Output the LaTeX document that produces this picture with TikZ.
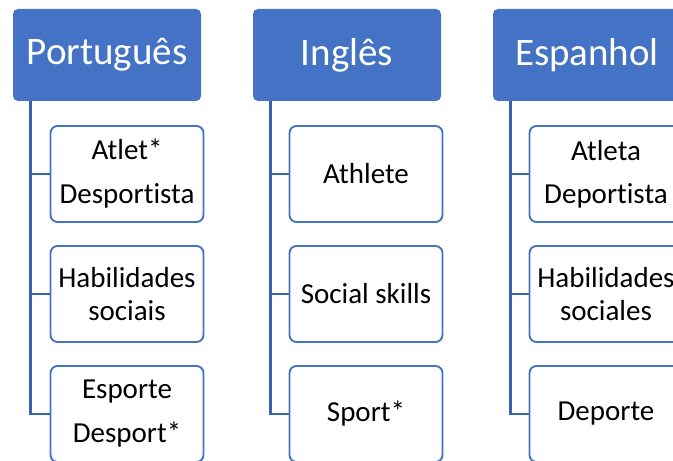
\documentclass[tikz,border=0pt]{standalone}
\usepackage{fontspec}
\setmainfont{Carlito}[Ligatures=NoCommon]
\definecolor{cabeca}{HTML}{4472C4}
\definecolor{traco}{HTML}{3A63AD}

\begin{document}
\begin{tikzpicture}[x=1pt,y=1pt,
    lingua/.style={rectangle,rounded corners=5pt,fill=cabeca,text=white,
        minimum width=188pt,minimum height=92pt,font=\fontsize{39}{46}\selectfont},
    termo/.style={rectangle,rounded corners=7pt,draw=cabeca,line width=1.9pt,fill=white,
        minimum width=153pt,minimum height=96pt,align=center,font=\fontsize{29}{33}\selectfont},
    ligacao/.style={draw=traco,line width=2.4pt}]
    \useasboundingbox (0,0) rectangle (673,461);
    \clip (0,0) rectangle (673,461);

    % Cabeçalhos das línguas
    \foreach \n/\x/\t in {1/107/Português,2/347/Inglês,3/587/Espanhol} {
        \node[lingua] (L\n) at (\x,406) {\t};
    }

    % Termos em português
    \node[termo] (L1a) at (127,287) {Atlet*\\[11pt]Desportista};
    \node[termo] (L1b) at (127,167) {Habilidades\\sociais};
    \node[termo] (L1c) at (127,47) {Esporte\\[11pt]Desport*};

    % Termos em inglês
    \node[termo] (L2a) at (366,287) {Athlete};
    \node[termo] (L2b) at (366,167) {Social skills};
    \node[termo] (L2c) at (366,47) {Sport*};

    % Termos em espanhol
    \node[termo] (L3a) at (606,287) {Atleta\\[10pt]Deportista};
    \node[termo] (L3b) at (606,167) {Habilidades\\sociales};
    \node[termo] (L3c) at (606,47) {Deporte};

    % Ligações
    \foreach \n in {1,2,3} {
        \foreach \k in {a,b,c} {
            \draw[ligacao] ([xshift=17.5pt]L\n.south west) |- (L\n\k.west);
        }
    }
\end{tikzpicture}
\end{document}
